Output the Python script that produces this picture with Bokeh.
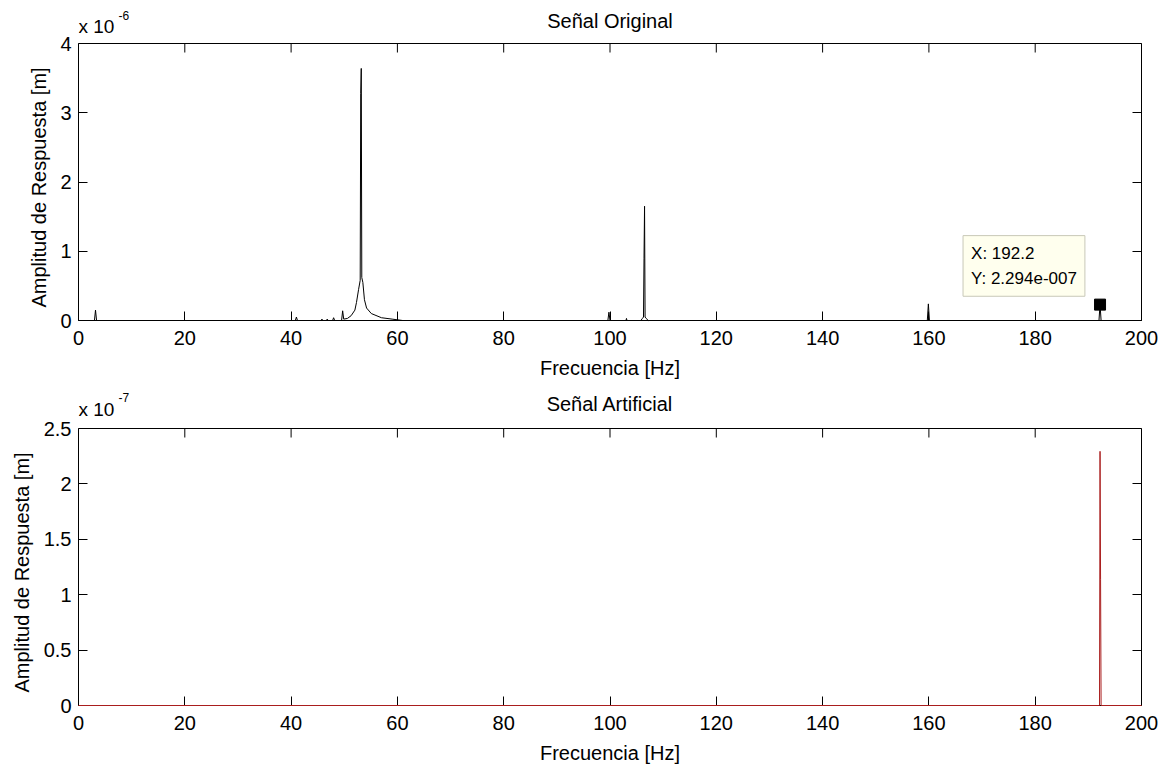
from bokeh.plotting import figure
from bokeh.layouts import column
from bokeh.models import (Range1d, FixedTicker, LinearAxis, Label, Span, Title,
                          CustomJSTickFormatter)
from bokeh.embed import file_html
from bokeh.resources import INLINE

FONT = "Liberation Sans"

# ---------------- data ----------------
x_ticks = [0, 20, 40, 60, 80, 100, 120, 140, 160, 180, 200]
y_ticks_orig = [0, 1, 2, 3, 4]            # x 10^-6 m
y_ticks_art = [0, 0.5, 1, 1.5, 2, 2.5]    # x 10^-7 m

# Señal Original (amplitude in units of 1e-6 m)
orig_freq = [0.0, 3.0, 3.2, 3.4, 40.8, 41.0, 41.2, 45.6, 45.8, 46.0, 46.6, 46.8, 47.0,
             47.8, 48.0, 48.2, 49.5, 49.7, 49.9, 50.6, 51.3, 52.0, 52.3, 52.7, 53.0,
             53.1, 53.2, 53.3, 53.5, 53.8, 54.2, 55.1, 57.0, 59.0, 61.0, 99.6, 99.8,
             100.0, 103.0, 103.1, 103.2, 105.8, 106.1, 106.3, 106.4, 106.5, 106.6,
             106.8, 107.2, 159.7, 159.9, 160.1, 192.0, 192.2, 192.4, 200.0]
orig_amp = [0.0, 0.0, 0.15, 0.0, 0.0, 0.05, 0.0, 0.0, 0.02, 0.0, 0.0, 0.02, 0.0,
            0.0, 0.04, 0.0, 0.0, 0.14, 0.02, 0.03, 0.07, 0.15, 0.26, 0.45, 0.58,
            3.28, 3.64, 0.62, 0.55, 0.30, 0.18, 0.10, 0.04, 0.02, 0.0, 0.0, 0.12,
            0.0, 0.0, 0.03, 0.0, 0.0, 0.03, 0.05, 0.9, 1.65, 0.05,
            0.03, 0.0, 0.0, 0.24, 0.0, 0.0, 0.2294, 0.0, 0.0]

# Señal Artificial (amplitude in units of 1e-7 m)
art_freq = [0.0, 192.0, 192.1, 192.2, 192.3, 192.4, 200.0]
art_amp = [0.0, 0.0, 0.0, 2.294, 1.14, 0.0, 0.0]

# data tip
tip_x = 192.2
tip_y = 0.2294          # x 10^-6 m
tip_text = "X: 192.2\nY: 2.294e-007"

titles = ["Señal Original", "Señal Artificial"]
exponents = ["-6", "-7"]
x_label = "Frecuencia [Hz]"
y_label = "Amplitud de Respuesta [m]"

# ---------------- layout constants (pixels) ----------------
W = 1160
BL, BR = 77, 19
AXES_H = 277          # height of the boxed axes area
TICK = 9


def style_axis(ax, show_labels=True):
    ax.axis_line_color = "black"
    ax.major_tick_line_color = "black"
    ax.major_tick_in = TICK
    ax.major_tick_out = 0
    ax.minor_tick_line_color = None
    ax.major_label_text_color = "black"
    ax.major_label_text_font = FONT
    ax.major_label_text_font_size = "20px"
    if not show_labels:
        ax.major_label_text_font_size = "1px"
        ax.major_label_standoff = 0
        ax.formatter = CustomJSTickFormatter(code="return ''")


def make_fig(height, bottom, ymax, yticks, freq, amp, color, title, exp_text,
             off_title, off_exp, off_sup):
    frame_h = height - bottom
    ytop = ymax * frame_h / AXES_H          # extra white room above the box for titles
    p = figure(width=W, height=height, x_range=Range1d(0, 200), y_range=Range1d(0, ytop),
               output_backend="svg", toolbar_location=None, title=None,
               min_border_left=BL, min_border_right=BR,
               min_border_top=0, min_border_bottom=bottom)
    p.grid.visible = False
    p.background_fill_color = "white"
    p.border_fill_color = "white"
    p.outline_line_color = None

    p.xaxis.ticker = FixedTicker(ticks=x_ticks)
    p.yaxis.ticker = FixedTicker(ticks=yticks)
    p.yaxis.bounds = (0, ymax)
    p.yaxis.formatter = CustomJSTickFormatter(code="return String(tick)")
    style_axis(p.xaxis[0])
    style_axis(p.yaxis[0])
    p.xaxis.major_label_standoff = 10
    p.yaxis.major_label_standoff = 7

    p.xaxis.axis_label = x_label
    p.xaxis.axis_label_text_font = FONT
    p.xaxis.axis_label_text_font_size = "20px"
    p.xaxis.axis_label_text_font_style = "normal"
    p.xaxis.axis_label_text_color = "black"
    p.xaxis.axis_label_standoff = 9

    # y label as a side title so it can be centred on the boxed area
    p.add_layout(Title(text=y_label, align="left", offset=13, standoff=16,
                       text_font=FONT, text_font_size="20px", text_font_style="normal",
                       text_color="black"), "left")

    ax_right = LinearAxis(ticker=FixedTicker(ticks=yticks), bounds=(0, ymax))
    style_axis(ax_right, False)
    p.add_layout(ax_right, "right")

    # top edge of the box and its inward ticks
    p.add_layout(Span(location=ymax, dimension="width", line_color="black", line_width=1))
    tick_len = TICK * ymax / AXES_H
    p.segment(x0=x_ticks, y0=[ymax] * len(x_ticks), x1=x_ticks,
              y1=[ymax - tick_len] * len(x_ticks), line_color="black", line_width=1)

    r = p.line(freq, amp, line_color=color, line_width=1)
    r.level = "overlay"

    p.add_layout(Label(x=100, y=ymax, y_offset=off_title, text=title, text_align="center",
                       text_baseline="alphabetic", text_font=FONT, text_font_size="20px",
                       text_color="black"))
    p.add_layout(Label(x=0, y=ymax, y_offset=off_exp, text="x 10", text_align="left",
                       text_baseline="alphabetic", text_font=FONT, text_font_size="19px",
                       text_color="black"))
    p.add_layout(Label(x=0, y=ymax, x_offset=40, y_offset=off_sup, text=exp_text,
                       text_align="left", text_baseline="alphabetic", text_font=FONT,
                       text_font_size="12px", text_color="black"))
    return p


p1 = make_fig(383, 63, 4, y_ticks_orig, orig_freq, orig_amp, "black",
              titles[0], exponents[0], 23, 17, 28)
p2 = make_fig(383, 61, 2.5, y_ticks_art, art_freq, art_amp, "#AA1E1E",
              titles[1], exponents[1], 25, 19, 31)

# data tip on the upper plot
tip_marker = p1.scatter([tip_x], [tip_y], marker="square", size=11,
                        fill_color="black", line_color="black")
tip_marker.level = "overlay"
p1.add_layout(Label(x=tip_x, y=tip_y, x_offset=-137, y_offset=69, text=tip_text,
                    text_align="left", text_baseline="top", text_font=FONT,
                    text_font_size="17px", text_color="black", text_line_height=1.35,
                    background_fill_color="#FFFFEE", border_line_color="#C8C8B8",
                    padding=8))

layout = column(p1, p2, spacing=0)
open("out.html", "w").write(file_html(layout, INLINE))
